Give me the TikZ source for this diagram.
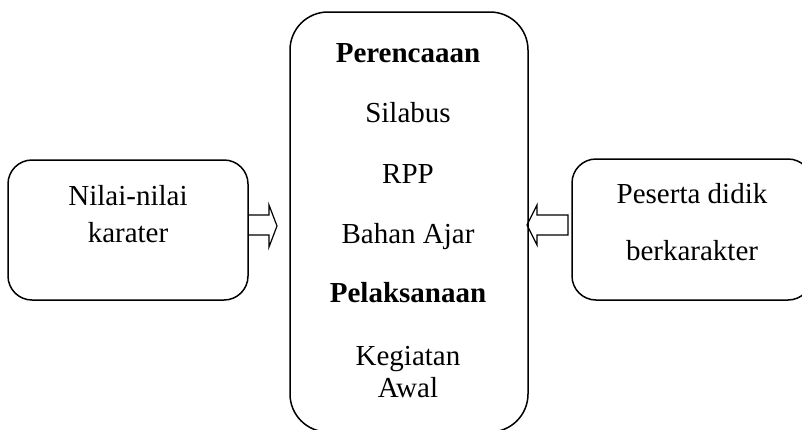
\documentclass[tikz,border=0pt]{standalone}
\usepackage{fontspec}
\setmainfont{Liberation Serif}
\usepackage{tikz}

\begin{document}
\begin{tikzpicture}[x=0.5pt,y=-0.5pt,
  box/.style={draw,line width=0.75pt,inner sep=0pt,rounded corners=12pt},
  txt/.style={anchor=base,inner sep=0pt,font=\fontsize{14.5}{17}\selectfont},
  blockarrow/.style={draw,line width=0.6pt,line join=miter}]

  \useasboundingbox (0,0) rectangle (802,429);
  \clip (0,0) rectangle (802,429);

  \node[box,minimum width=120pt,minimum height=70pt] (nilai) at (128,230) {};
  \node[box,minimum width=119pt,minimum height=210pt,rounded corners=19pt] (isi) at (409,222) {};
  \node[box,minimum width=120pt,minimum height=70.5pt] (peserta) at (692,229.5) {};

  \node[txt] (t1) at (128,205) {Nilai-nilai};
  \node[txt] (t2) at (128,242) {karater};

  \node[txt,font=\fontsize{14.5}{17}\selectfont\bfseries] (p1) at (408,62) {Perencaaan};
  \node[txt] (p2) at (408,122) {Silabus};
  \node[txt] (p3) at (408,183) {RPP};
  \node[txt] (p4) at (408,243) {Bahan Ajar};
  \node[txt,font=\fontsize{14.5}{17}\selectfont\bfseries] (p5) at (408,302) {Pelaksanaan};
  \node[txt] (p6) at (408,365) {Kegiatan};
  \node[txt] (p7) at (408,397) {Awal};

  \node[txt] (s1) at (692,203) {Peserta didik};
  \node[txt] (s2) at (692,260) {berkarakter};

  \draw[blockarrow] (248,215) -- (269,215) -- (269,205) -- (277,226) -- (269,247) -- (269,235) -- (248,235);
  \draw[blockarrow] (568,215) -- (537,215) -- (537,205) -- (527,225) -- (537,245) -- (537,235) -- (568,235) -- cycle;

\end{tikzpicture}
\end{document}
